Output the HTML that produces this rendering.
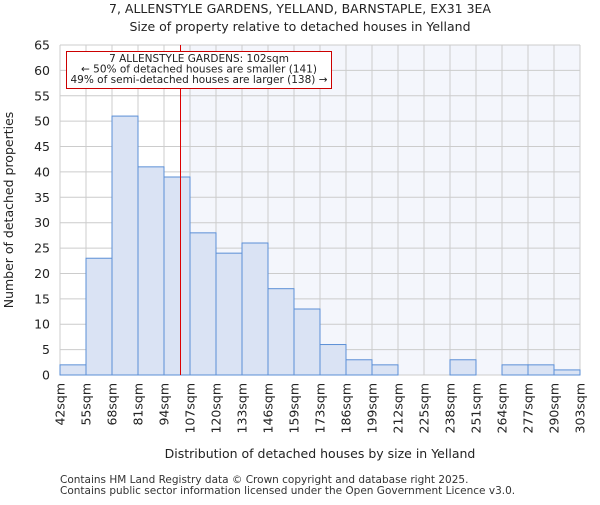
<!DOCTYPE html>
<html><head><meta charset="utf-8"><style>body{margin:0;background:#fff}svg{font-family:"DejaVu Sans","Liberation Sans",sans-serif}</style></head>
<body>
<svg id="c" width="600" height="500">
<text x="300" y="13" text-anchor="middle" font-size="12.5" fill="#222">7, ALLENSTYLE GARDENS, YELLAND, BARNSTAPLE, EX31 3EA</text>
<text x="300" y="31" text-anchor="middle" font-size="12.5" fill="#222">Size of property relative to detached houses in Yelland</text>
<g id="plot"></g>
<text x="320" y="458" text-anchor="middle" font-size="12.5" fill="#222">Distribution of detached houses by size in Yelland</text>
<text transform="translate(13,210) rotate(-90)" text-anchor="middle" font-size="12.5" fill="#222">Number of detached properties</text>
<text x="60" y="483" font-size="10.5" fill="#333">Contains HM Land Registry data © Crown copyright and database right 2025.</text>
<text x="60" y="494" font-size="10.5" fill="#333">Contains public sector information licensed under the Open Government Licence v3.0.</text>
</svg>
<script>
const categories=["42sqm","55sqm","68sqm","81sqm","94sqm","107sqm","120sqm","133sqm","146sqm","159sqm","173sqm","186sqm","199sqm","212sqm","225sqm","238sqm","251sqm","264sqm","277sqm","290sqm","303sqm"];
const values=[2,23,51,41,39,28,24,26,17,13,6,3,2,0,0,3,0,2,2,1];
const yTicks=[0,5,10,15,20,25,30,35,40,45,50,55,60,65];
const marker=102, binStart=42, binWidth=13.05;
const X0=60,X1=580,Y0=375,Y1=45,yMax=65;
const bw=(X1-X0)/values.length;
const xb=i=>X0+i*bw;
const y=v=>Y0-(v/yMax)*(Y0-Y1);
const xs=s=>X0+(s-binStart)/binWidth*bw;
const ns="http://www.w3.org/2000/svg";
const g=document.getElementById('plot');
function mk(t,a){const e=document.createElementNS(ns,t);for(const k in a)e.setAttribute(k,a[k]);g.appendChild(e);return e;}
const mx=Math.round(xs(marker))+0.5;
let e=mk('rect',{x:mx,y:Y1,width:X1-mx,height:Y0-Y1,fill:'#f4f6fc'});


yTicks.forEach(t=>{
 let l=mk('line',{x1:X0,x2:X1,y1:y(t),y2:y(t),stroke:'#ccc','stroke-width':1});
 
 
 let tx=mk('text',{x:X0-10,y:y(t)+4.5,'text-anchor':'end','font-size':12.5,fill:'#222'});
 tx.textContent=t;
 
 
});
categories.forEach((c,i)=>{
 let l=mk('line',{x1:xb(i),x2:xb(i),y1:Y1,y2:Y0,stroke:'#ccc','stroke-width':1});
 
 
 let tx=mk('text',{transform:`translate(${xb(i)+4.5},${Y0+8}) rotate(-90)`,'text-anchor':'end','font-size':12.5,fill:'#222'});
 tx.textContent=c;
 
 
});
values.forEach((v,i)=>{
 if(v<=0)return;
 let r=mk('rect',{x:xb(i),y:y(v),width:bw,height:Y0-y(v),fill:'#dae3f4',stroke:'#5b8fd6','stroke-width':1});
 
 
});
let ml=mk('line',{x1:mx,x2:mx,y1:Y1,y2:Y0,stroke:'#dd0000','stroke-width':1});


let box=mk('rect',{x:66.5,y:51.5,width:265,height:37,fill:'#fff',stroke:'#cc0000','stroke-width':1});


["7 ALLENSTYLE GARDENS: 102sqm","← 50% of detached houses are smaller (141)","49% of semi-detached houses are larger (138) →"].forEach((s,i)=>{
 let t=mk('text',{x:199,y:62+i*10.5,'text-anchor':'middle','font-size':10.5,fill:'#222'});
 t.textContent=s;
 
 
});
</script>
</body></html>
